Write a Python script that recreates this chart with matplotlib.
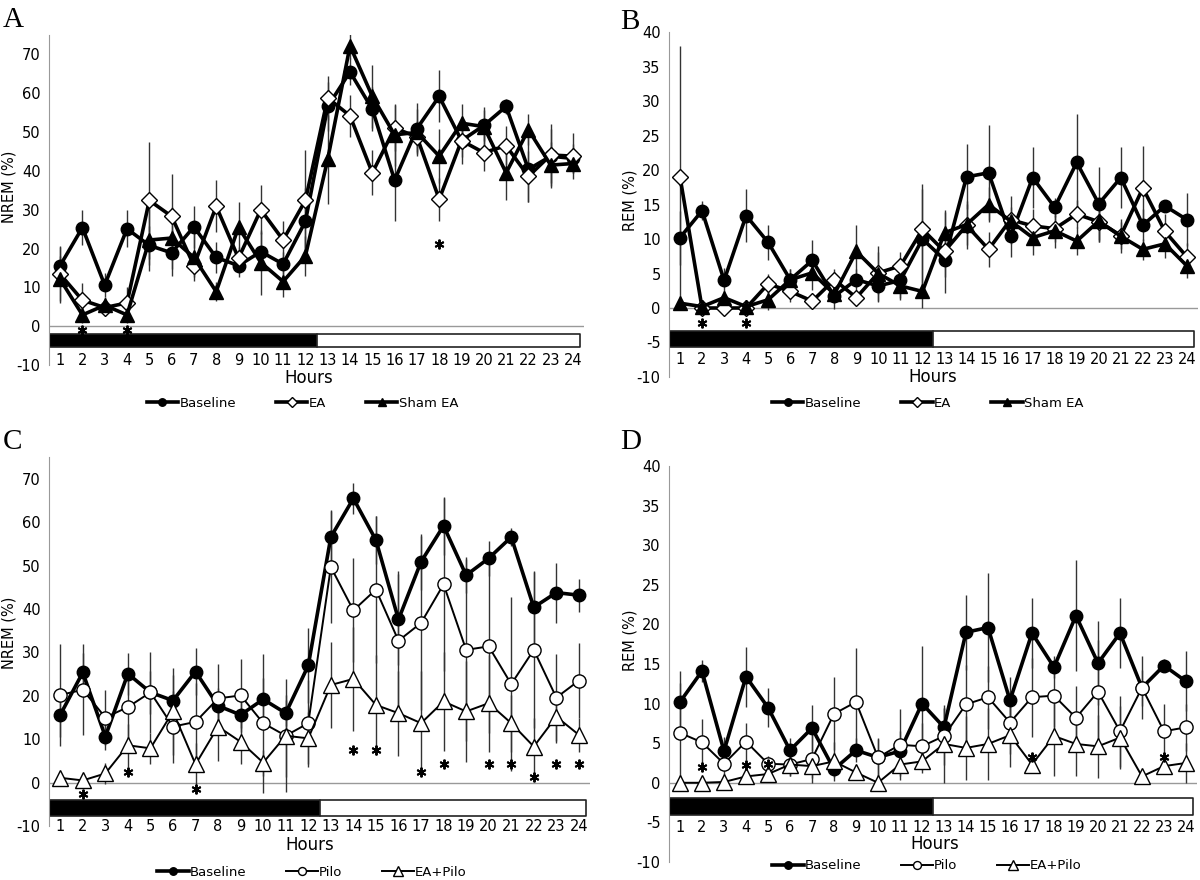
import matplotlib.pyplot as plt
import numpy as np

plt.rcParams['font.family'] = 'DejaVu Sans'
plt.rcParams['axes.unicode_minus'] = False

hours = np.arange(1, 25)
hour_labels = [str(h) for h in hours]

# NREM (%) -- panels A and C
nrem_baseline = [15.6, 25.4, 10.6, 25.1, 20.8, 18.9, 25.6, 17.7, 15.6, 19.2, 16.0, 27.0,
                 56.6, 65.5, 55.9, 37.6, 50.9, 59.2, 47.8, 51.7, 56.6, 40.4, 43.8, 43.2]
nrem_baseline_err = [5.0, 4.5, 3.0, 4.8, 5.0, 6.0, 5.4, 4.0, 3.0, 5.0, 3.0, 8.6,
                     6.2, 3.5, 5.6, 10.4, 6.5, 6.7, 4.1, 4.0, 2.0, 8.4, 6.9, 3.8]
nrem_ea = [13.4, 6.7, 4.8, 6.0, 32.4, 28.3, 15.6, 30.9, 17.5, 30.0, 22.2, 32.4,
           58.8, 54.2, 39.5, 51.0, 48.8, 32.7, 47.8, 44.7, 46.5, 38.6, 44.1, 43.8]
nrem_ea_err = [7.0, 4.3, 2.0, 4.0, 15.0, 11.0, 3.0, 6.7, 3.0, 6.3, 5.0, 13.0,
               5.7, 5.4, 5.8, 6.0, 4.0, 5.5, 6.0, 4.7, 5.0, 6.6, 8.0, 6.0]
nrem_sham = [12.1, 2.9, 5.4, 2.9, 22.2, 22.7, 17.7, 8.9, 25.5, 16.4, 11.5, 18.1,
             43.0, 72.2, 59.2, 49.3, 49.9, 43.8, 52.3, 51.4, 39.5, 50.6, 41.5, 41.9]
nrem_sham_err = [6.0, 2.0, 2.0, 2.0, 8.0, 8.0, 6.0, 2.4, 6.5, 8.4, 4.0, 5.2,
                 11.5, 3.4, 8.2, 8.0, 6.0, 7.0, 5.0, 5.0, 7.0, 4.0, 6.0, 2.5]
nrem_pilo = [20.2, 21.4, 15.0, 17.4, 20.8, 12.9, 14.0, 19.4, 20.1, 13.7, 10.8, 13.7,
             49.7, 39.7, 44.5, 32.7, 36.8, 45.7, 30.6, 31.4, 22.7, 30.6, 19.6, 23.5]
nrem_pilo_err = [11.7, 10.5, 6.4, 9.0, 9.3, 8.3, 9.0, 8.0, 8.4, 16.0, 13.0, 10.0,
                 13.0, 12.0, 17.0, 16.0, 20.0, 20.0, 21.0, 20.0, 20.0, 18.0, 10.0, 8.7]
nrem_eapilo = [1.1, 0.5, 2.1, 8.6, 7.9, 16.4, 4.2, 12.9, 9.4, 4.6, 10.8, 10.2,
               22.5, 23.9, 17.9, 16.0, 13.7, 18.7, 16.4, 18.3, 13.7, 8.3, 15.2, 11.0]
nrem_eapilo_err = [1.0, 1.0, 2.5, 5.0, 3.5, 10.0, 5.0, 8.0, 5.0, 3.0, 9.5, 6.0,
                   10.0, 12.0, 11.6, 9.8, 12.0, 11.4, 11.6, 11.2, 6.6, 6.6, 6.0, 4.0]

# REM (%) -- panels B and D
rem_baseline = [10.2, 14.1, 4.0, 13.4, 9.5, 4.1, 6.9, 1.7, 4.1, 3.2, 4.0, 10.0,
                7.0, 19.0, 19.6, 10.4, 18.9, 14.6, 21.1, 15.1, 18.9, 12.0, 14.8, 12.8]
rem_baseline_err = [3.9, 1.4, 1.8, 3.8, 2.5, 1.5, 2.9, 1.0, 1.5, 2.3, 2.5, 7.3,
                    2.5, 4.7, 6.9, 3.0, 4.4, 1.4, 7.0, 5.3, 4.4, 2.3, 0.8, 3.8]
rem_ea = [19.0, 0.0, 0.0, 0.0, 3.5, 2.4, 1.0, 4.1, 1.5, 5.1, 6.1, 11.4,
          8.2, 12.0, 8.5, 12.8, 11.9, 11.5, 13.6, 12.5, 10.5, 17.4, 11.1, 7.4]
rem_ea_err = [19.0, 0.5, 0.5, 0.5, 1.5, 1.5, 0.8, 1.5, 1.0, 3.0, 2.0, 6.6,
              6.0, 3.5, 2.5, 3.5, 2.5, 2.0, 2.0, 3.0, 2.0, 6.1, 2.5, 2.0]
rem_sham = [0.7, 0.2, 1.5, 0.2, 1.2, 4.1, 5.1, 2.0, 8.2, 5.0, 3.2, 2.4,
            10.9, 12.1, 15.0, 12.6, 10.2, 11.2, 9.7, 12.6, 10.4, 8.5, 9.3, 6.1]
rem_sham_err = [0.7, 0.5, 1.0, 0.5, 1.5, 1.5, 2.5, 2.2, 3.8, 4.0, 2.0, 2.4,
                3.0, 3.0, 2.5, 2.0, 2.5, 2.5, 2.0, 3.0, 2.5, 1.5, 2.0, 1.8]
rem_pilo = [6.3, 5.1, 2.4, 5.2, 2.4, 2.3, 3.0, 8.7, 10.2, 3.2, 4.8, 4.6,
            5.9, 9.9, 10.8, 7.6, 10.8, 11.0, 8.2, 11.5, 6.5, 12.0, 6.5, 7.0]
rem_pilo_err = [6.3, 2.9, 2.0, 2.3, 1.0, 1.5, 3.0, 4.6, 6.8, 2.5, 4.5, 3.0,
                3.6, 5.0, 4.0, 4.0, 5.0, 4.0, 4.0, 6.5, 4.5, 4.0, 3.5, 3.0]
rem_eapilo = [0.0, 0.0, 0.1, 0.8, 1.1, 2.3, 2.1, 2.7, 1.3, 0.0, 2.3, 2.7,
              4.9, 4.4, 4.9, 6.0, 2.3, 5.9, 4.9, 4.6, 5.7, 0.8, 2.1, 2.5]
rem_eapilo_err = [0.3, 0.3, 0.3, 0.5, 0.8, 1.5, 1.5, 2.5, 1.0, 0.3, 1.5, 1.5,
                  4.9, 4.0, 4.5, 4.0, 1.0, 5.0, 4.0, 4.0, 4.0, 0.5, 1.0, 2.5]

# significance asterisks (hour, y)
sig_a_hours = [2, 4, 18]
sig_a_y = [-0.9, -0.9, 21.3]
sig_b_hours = [2, 4]
sig_b_y = [-2.2, -2.2]
sig_c_hours = [2, 4, 7, 14, 15, 17, 18, 20, 21, 22, 23, 24]
sig_c_y = [-2.6, 2.5, -1.4, 7.5, 7.5, 2.5, 4.4, 4.4, 4.2, 1.3, 4.4, 4.2]
sig_d_hours = [2, 4, 5, 17, 23]
sig_d_y = [2.0, 2.3, 2.4, 3.2, 3.2]

styles = {
    'Baseline': dict(marker='o', mfc='black', ms=9, lw=2.6),
    'EA': dict(marker='D', mfc='white', ms=8, lw=2.6),
    'Sham EA': dict(marker='^', mfc='black', ms=10, lw=2.6),
    'Pilo': dict(marker='o', mfc='white', ms=9.5, lw=1.4),
    'EA+Pilo': dict(marker='^', mfc='white', ms=11, lw=1.4),
}

fig = plt.figure(figsize=(12, 8.8), dpi=100)


def draw_panel(rect, series, ylim, yticks, ylabel, ylab_pos, bar_y, xpad, sig_h, sig_y):
    ax = fig.add_axes(rect)
    for name, vals, err in series:
        st = styles[name]
        ax.errorbar(hours, vals, yerr=err, fmt='none', ecolor='#333333',
                    elinewidth=1.0, capsize=0, zorder=2)
        ax.plot(hours, vals, color='black', lw=st['lw'], marker=st['marker'],
                ms=st['ms'], mfc=st['mfc'], mec='black', mew=1.0,
                label=name, zorder=3)
    ax.plot(sig_h, sig_y, ls='none', marker=(6, 2, 0), ms=7, mew=1.4,
            color='black', zorder=4)
    # dark / light bar
    ax.broken_barh([(0.5, 12.0), (12.5, 11.8)], (bar_y[0], bar_y[1] - bar_y[0]),
                   facecolors=['black', 'white'], edgecolor='#222222', lw=1.2,
                   zorder=1)
    ax.axhline(0, color='#999999', lw=1.0, zorder=1)
    ax.set_xlim(0.5, 24.5)
    ax.set_ylim(*ylim)
    ax.set_yticks(yticks)
    ax.set_xticks(hours)
    ax.set_xticklabels(hour_labels)
    for s in ['top', 'right', 'bottom']:
        ax.spines[s].set_visible(False)
    ax.spines['left'].set_color('#999999')
    ax.tick_params(axis='y', length=0, labelsize=10.5, pad=6)
    ax.tick_params(axis='x', length=0, labelsize=10.5, pad=xpad)
    ax.set_ylabel(ylabel, fontsize=10.5)
    ax.yaxis.set_label_coords(*ylab_pos)
    return ax


nrem_ticks = np.arange(-10, 71, 10)
rem_ticks = np.arange(-10, 41, 5)

axA = draw_panel([0.0408, 0.5852, 0.446, 0.375],
                 [('Baseline', nrem_baseline, nrem_baseline_err),
                  ('EA', nrem_ea, nrem_ea_err),
                  ('Sham EA', nrem_sham, nrem_sham_err)],
                 (-10, 75), nrem_ticks, 'NREM (%)', (-0.061, 0.54), (-5.4, -2.0), -9,
                 sig_a_hours, sig_a_y)
axB = draw_panel([0.5575, 0.5716, 0.4408, 0.392],
                 [('Baseline', rem_baseline, rem_baseline_err),
                  ('EA', rem_ea, rem_ea_err),
                  ('Sham EA', rem_sham, rem_sham_err)],
                 (-10, 40), rem_ticks, 'REM (%)', (-0.06, 0.513), (-5.6, -3.4), -18,
                 sig_b_hours, sig_b_y)
axC = draw_panel([0.0408, 0.0614, 0.451, 0.419],
                 [('Baseline', nrem_baseline, nrem_baseline_err),
                  ('Pilo', nrem_pilo, nrem_pilo_err),
                  ('EA+Pilo', nrem_eapilo, nrem_eapilo_err)],
                 (-10, 75), nrem_ticks, 'NREM (%)', (-0.06, 0.523), (-7.6, -4.1), -5,
                 sig_c_hours, sig_c_y)
axD = draw_panel([0.5575, 0.0205, 0.44, 0.45],
                 [('Baseline', rem_baseline, rem_baseline_err),
                  ('Pilo', rem_pilo, rem_pilo_err),
                  ('EA+Pilo', rem_eapilo, rem_eapilo_err)],
                 (-10, 40), rem_ticks, 'REM (%)', (-0.06, 0.56), (-4.1, -1.9), -30,
                 sig_d_hours, sig_d_y)

# "Hours" labels and legends
for ax, hx, hy, lx, ly in [(axA, 0.2575, 0.5705, 0.252, 0.542),
                           (axB, 0.7775, 0.5716, 0.773, 0.542),
                           (axC, 0.258, 0.0398, 0.26, 0.009),
                           (axD, 0.779, 0.041, 0.7725, 0.016)]:
    fig.text(hx, hy, 'Hours', fontsize=12, ha='center', va='center')
    ax.legend(loc='center', bbox_to_anchor=(lx, ly), bbox_transform=fig.transFigure,
              ncol=3, frameon=False, fontsize=9.5, handlelength=2.4,
              columnspacing=3.0, handletextpad=0.1, markerscale=0.6)

for letter, x, y in [('A', 0.002, 0.992), ('B', 0.517, 0.99),
                     ('C', 0.002, 0.512), ('D', 0.517, 0.512)]:
    fig.text(x, y, letter, fontsize=21, family='Liberation Serif',
             ha='left', va='top')

plt.savefig('out.png', dpi=100)
